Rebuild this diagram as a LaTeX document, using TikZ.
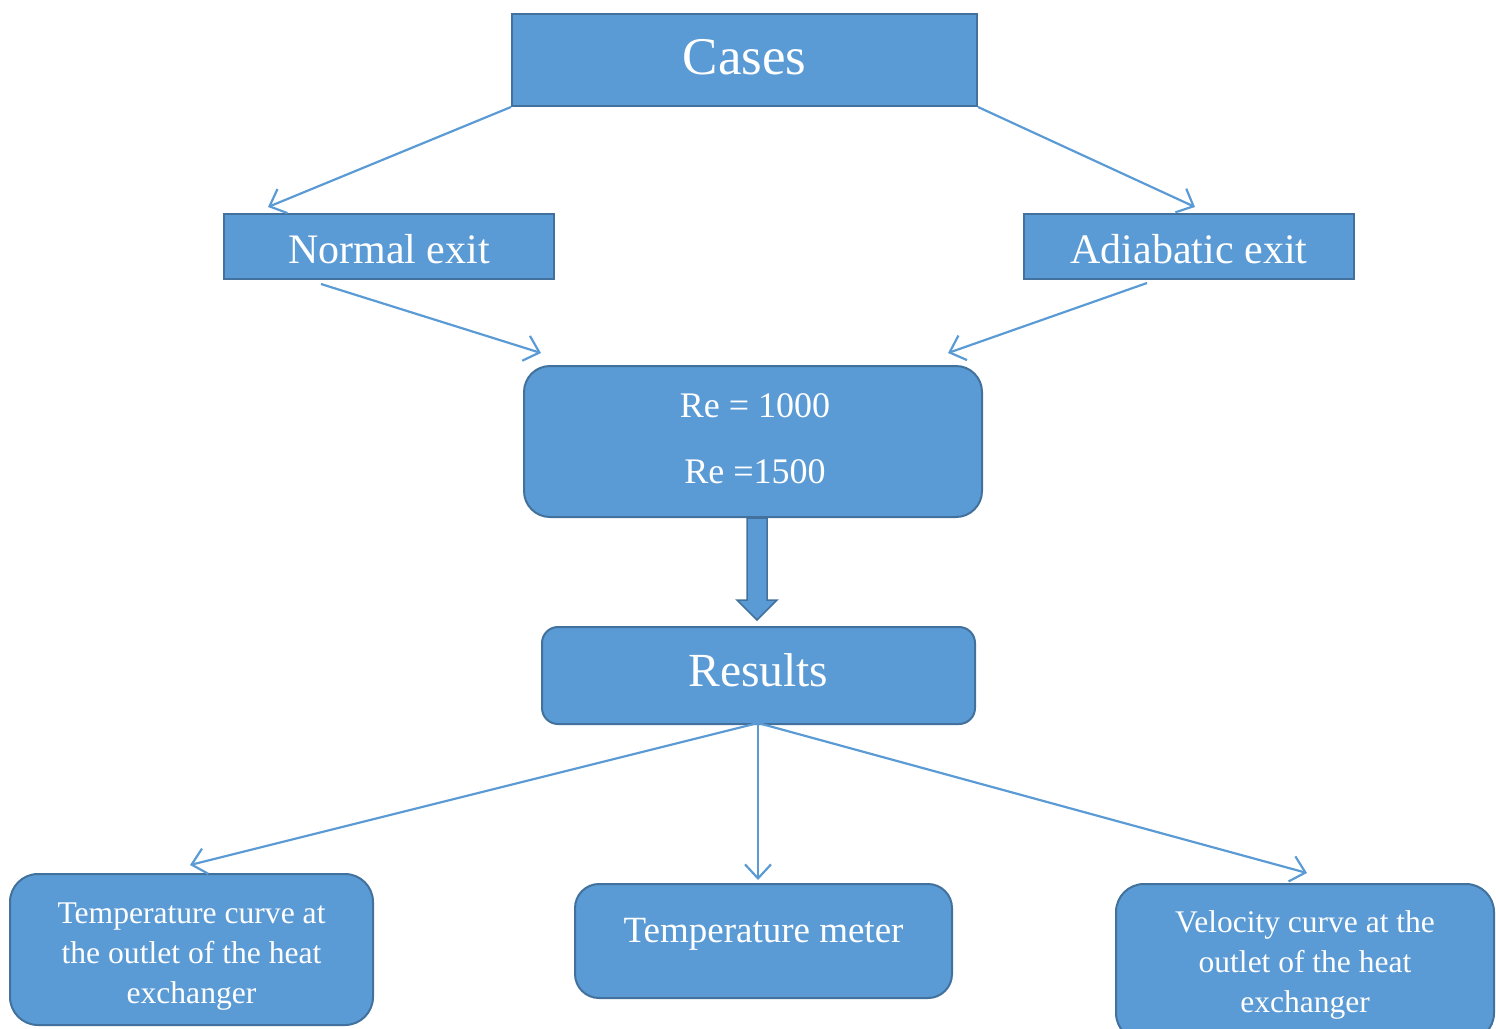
\documentclass[tikz,border=0pt]{standalone}
\usepackage{fontspec}
\setmainfont{Liberation Serif}
\usetikzlibrary{arrows.meta,calc}
\definecolor{boxfill}{HTML}{5B9BD5}
\definecolor{boxline}{HTML}{41719C}
\begin{document}
\begin{tikzpicture}[x=1pt,y=-1pt,
  box/.style={draw=boxline,fill=boxfill,line width=2pt,inner sep=0pt,anchor=north west},
  rbox/.style={box,rounded corners=#1},
  lbl/.style={text=white,inner sep=0pt,align=center},
  conn/.style={draw=boxfill,line width=2.2pt,-{Straight Barb[length=14pt,width=26pt,line width=2.2pt]}},
  fs/.style 2 args={font=\fontsize{#1}{#2}\selectfont}]
\useasboundingbox (0,0) rectangle (1496,1028);
\begin{scope}
\clip (0,0) rectangle (1496,1028);
\node[box,minimum width=465pt,minimum height=92pt] (cases) at (511,13) {};
\node[box,minimum width=330pt,minimum height=65pt] (normal) at (223,213) {};
\node[box,minimum width=330pt,minimum height=65pt] (adiab) at (1023,213) {};
\node[rbox=26pt,minimum width=458pt,minimum height=151pt] (re) at (523,365) {};
\node[rbox=16pt,minimum width=433pt,minimum height=97pt] (results) at (541,626) {};
\node[rbox=28pt,minimum width=363pt,minimum height=151pt] (t1) at (9,873) {};
\node[rbox=24pt,minimum width=377pt,minimum height=114pt] (t2) at (574,883) {};
\node[rbox=28pt,minimum width=378pt,minimum height=157pt] (t3) at (1115,883) {};
\end{scope}
% texts
\node[lbl,fs={53}{60}] (casesT) at ($(cases.center)+(0,-3)$) {Cases};
\node[lbl,fs={42}{48}] (normalT) at ($(normal.center)+(0,3)$) {Normal exit};
\node[lbl,fs={42}{48}] (adiabT) at ($(adiab.center)+(0,3)$) {Adiabatic exit};
\node[lbl,fs={36}{66}] (reT) at ($(re.center)+(2,-3)$) {Re = 1000\\Re =1500};
\node[lbl,fs={47.5}{54}] (resultsT) at ($(results.center)+(0,-5)$) {Results};
\node[lbl,fs={31.6}{40}] (t1T) at ($(t1.center)+(0,7)$) {Temperature curve at\\the outlet of the heat\\exchanger};
\node[lbl,fs={37}{42}] (t2T) at ($(t2.center)+(0,-7)$) {Temperature meter};
\node[lbl,fs={31.5}{40}] (t3T) at ($(t3.center)+(0,2)$) {Velocity curve at the\\outlet of the heat\\exchanger};
% free ends
\coordinate (cL) at (268,207);
\coordinate (cR) at (1195,207);
\coordinate (nS) at (321,284);
\coordinate (nE) at (541,353);
\coordinate (aS) at (1147,283);
\coordinate (aE) at (948,353);
\coordinate (r1) at (190,865);
\coordinate (r2) at (758,880);
\coordinate (r3) at (1307,873);
\coordinate (rs) at (758,723);
\draw[conn] (cases.south west) -- (cL);
\draw[conn] (cases.south east) -- (cR);
\draw[conn] (nS) -- (nE);
\draw[conn] (aS) -- (aE);
\draw[conn] (rs) -- (r1);
\draw[conn] (rs) -- (r2);
\draw[conn] (rs) -- (r3);
% block arrow
\coordinate (ba) at ($(re.south)+(4,0)$);
\draw[draw=boxline,fill=boxfill,line width=1.5pt,line join=miter]
  ($(ba)+(-10,0)$) -- ($(ba)+(10,0)$) -- ($(ba)+(10,82)$) -- ($(ba)+(20,82)$)
  -- ($(ba)+(0,102)$) -- ($(ba)+(-20,82)$) -- ($(ba)+(-10,82)$) -- cycle;
\end{tikzpicture}
\end{document}
